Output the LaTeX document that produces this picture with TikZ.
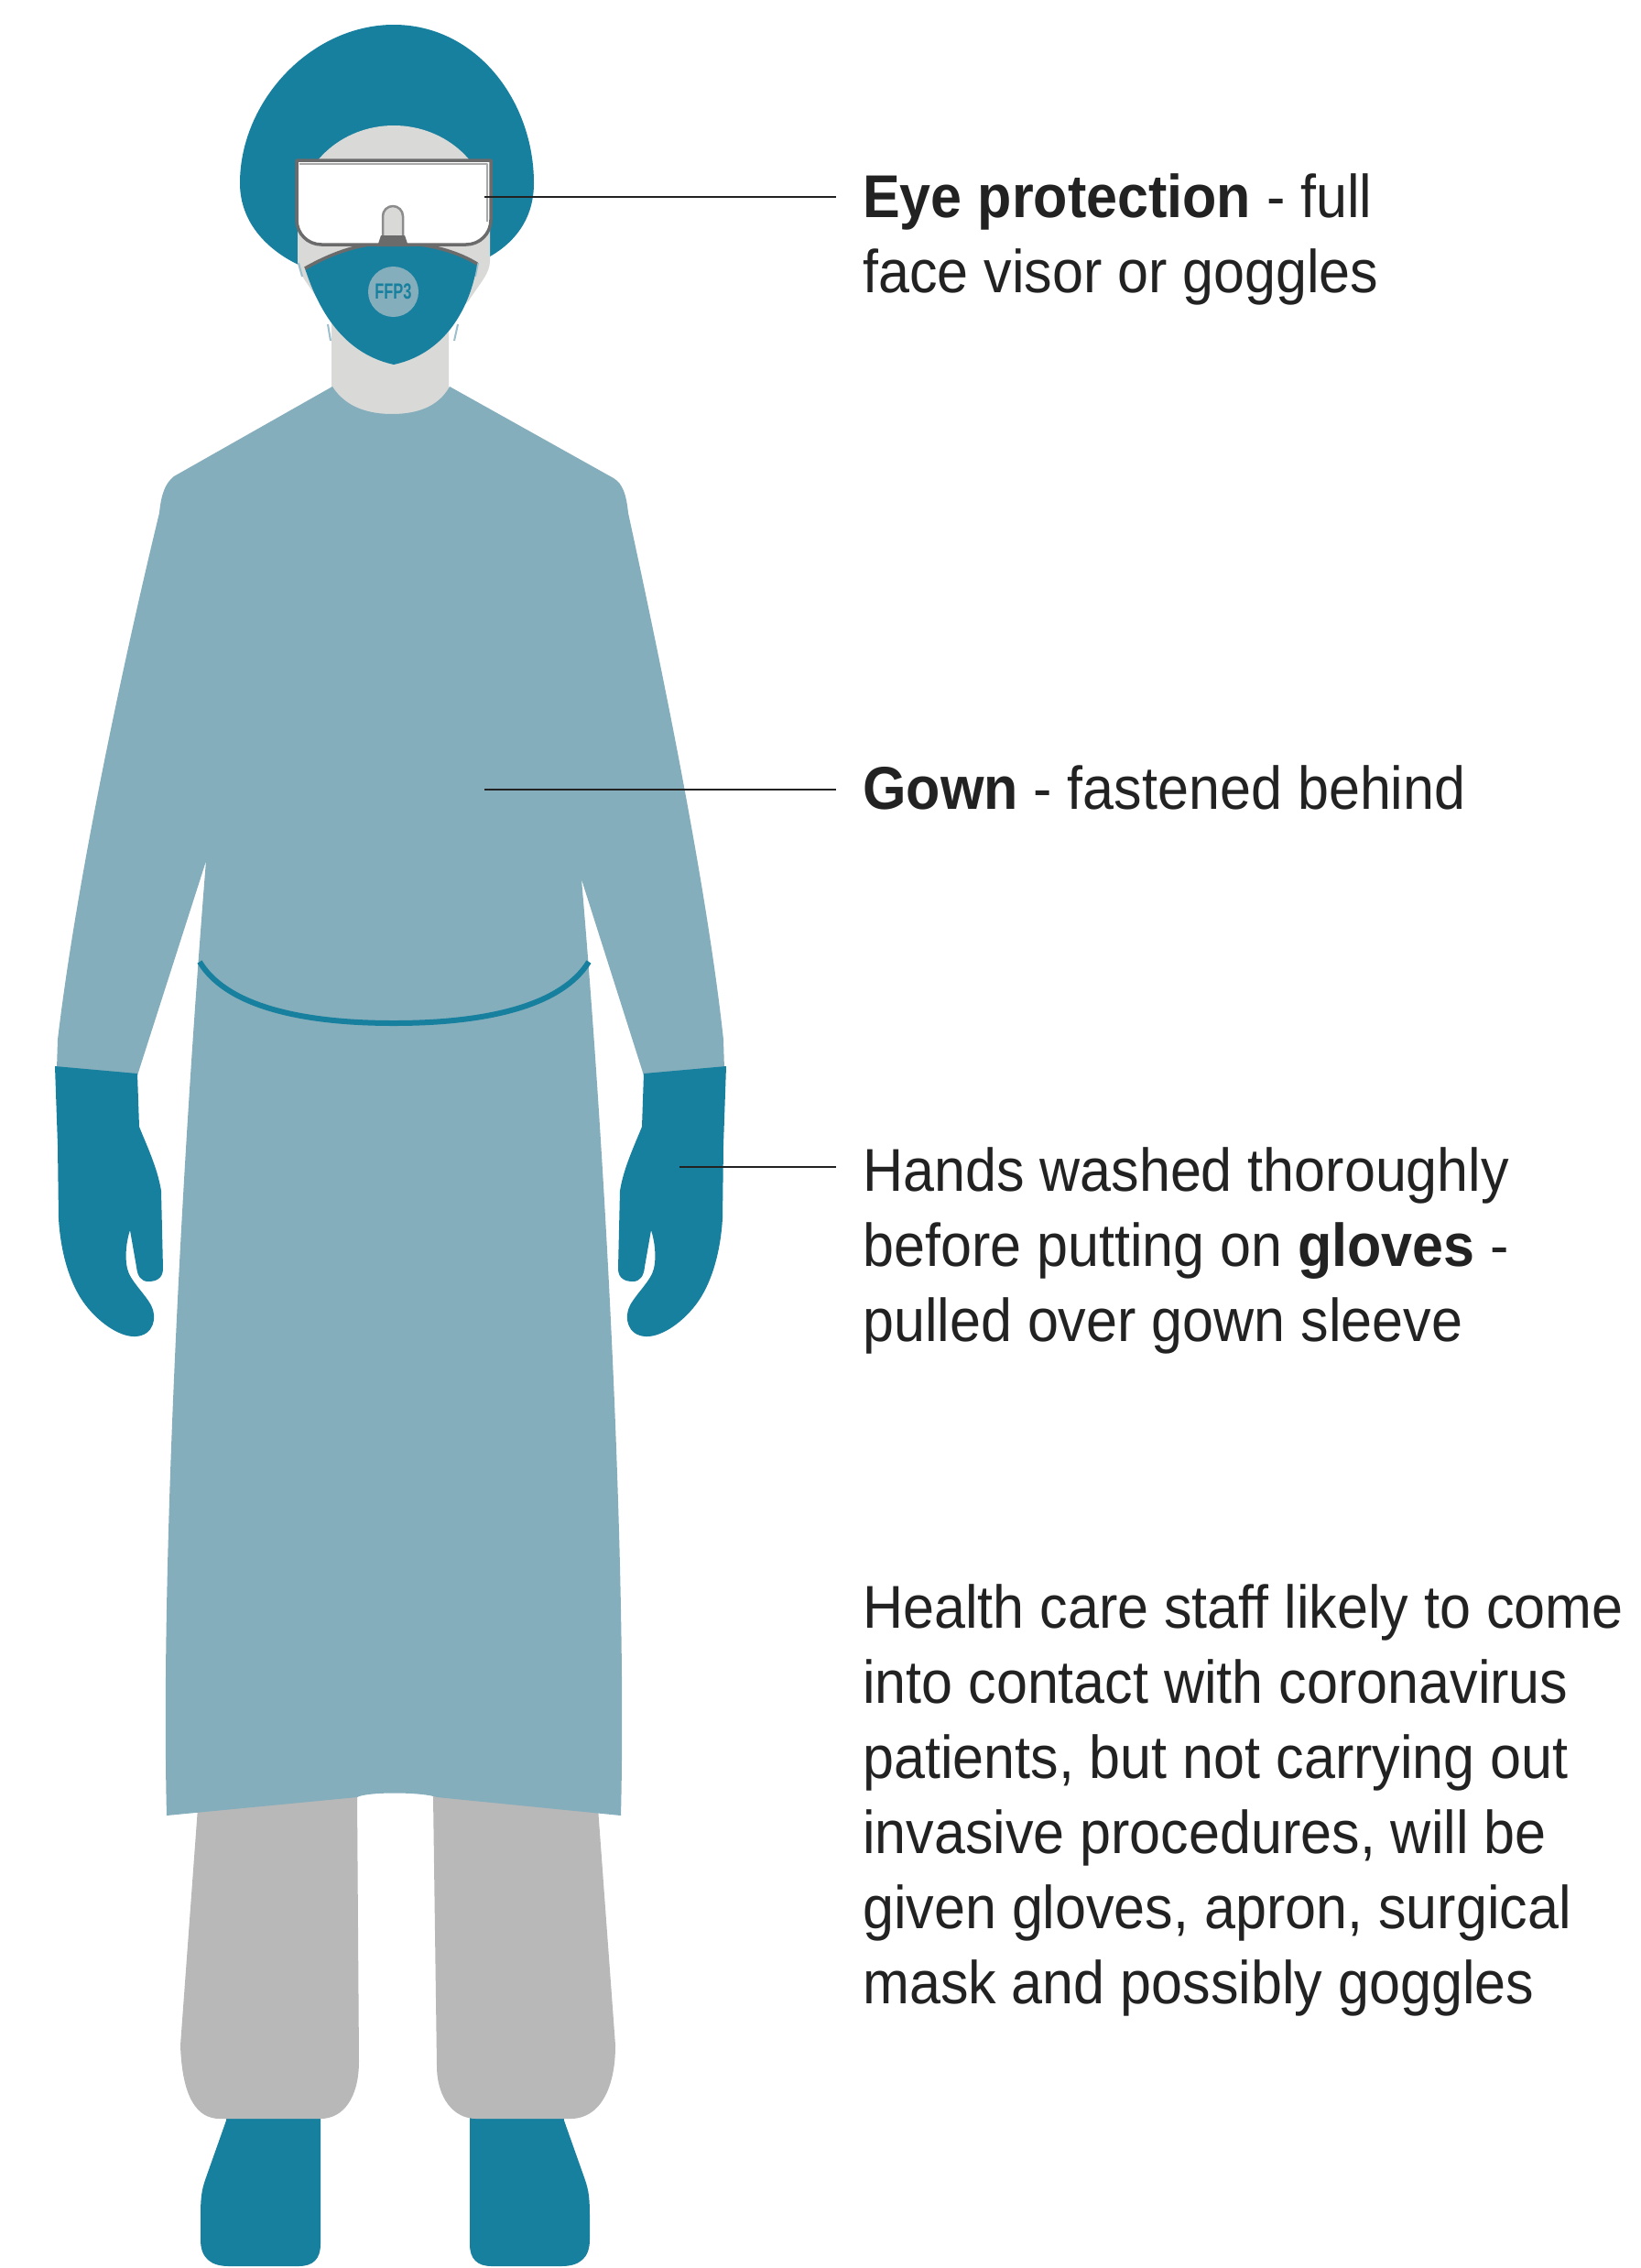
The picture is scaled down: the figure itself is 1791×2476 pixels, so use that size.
\documentclass[tikz,border=0pt]{standalone}
\usepackage{fontspec}
\usepackage{graphicx}
\setmainfont{Liberation Sans}[FakeStretch=0.925]

\definecolor{ppeTeal}{HTML}{17809F}
\definecolor{gownBlue}{HTML}{85AEBC}
\definecolor{skinGrey}{HTML}{D9D9D8}
\definecolor{trouserGrey}{HTML}{B8B8B8}
\definecolor{visorGrey}{HTML}{6B6B6B}
\definecolor{visorLight}{HTML}{A8A8A8}
\definecolor{tabGrey}{HTML}{8C8C8C}
\definecolor{strapBlue}{HTML}{9DBFCB}
\definecolor{inkDark}{HTML}{222222}

\tikzset{
  tealpart/.style={fill=ppeTeal},
  strap/.style={draw=strapBlue, line width=2pt},
  leader/.style={draw=inkDark, line width=2.5pt},
  lbl/.style={anchor=base west, inner xsep=29pt, inner ysep=0pt, text=inkDark,
              font=\fontsize{66}{82}\selectfont},
  glove/.pic={
    \fill[tealpart] (60,1164) -- (150,1172) -- (152,1230)
      .. controls (160,1250) and (172,1275) .. (176,1300) -- (178,1385)
      .. controls (178,1396) and (170,1399) .. (162,1399)
      .. controls (154,1399) and (150,1393) .. (149,1383) -- (142,1343)
      .. controls (138,1355) and (136,1372) .. (139,1385)
      .. controls (142,1398) and (158,1412) .. (165,1425)
      .. controls (172,1438) and (168,1458) .. (148,1459)
      .. controls (130,1460) and (105,1442) .. (90,1420)
      .. controls (75,1398) and (66,1365) .. (64,1330) -- (63,1250) -- cycle;
  },
  boot/.pic={
    \fill[tealpart] (248,2300) -- (350,2300) -- (350,2450)
      .. controls (350,2466) and (342,2474) .. (326,2474) -- (250,2474)
      .. controls (230,2474) and (219,2465) .. (219,2445) -- (219,2420)
      .. controls (219,2400) and (220,2392) .. (224,2380) -- (247,2315) -- cycle;
  }
}

\begin{document}
\begin{tikzpicture}[x=1pt, y=-1pt, line join=round]
  \useasboundingbox (0,0) rectangle (1791,2476);
  \fill[white] (0,0) rectangle (1791,2476);

  % boots
  \pic at (0,0) {boot};
  \pic[xscale=-1] at (863,0) {boot};

  % trousers
  \fill[trouserGrey] (217,1960) -- (197,2233)
    .. controls (199,2290) and (215,2313) .. (240,2313) -- (350,2313)
    .. controls (375,2313) and (392,2290) .. (392,2250) -- (390,1960) -- cycle;
  \fill[trouserGrey] (473,1960) -- (477,2255)
    .. controls (477,2290) and (495,2313) .. (520,2313) -- (623,2313)
    .. controls (655,2313) and (672,2280) .. (672,2233) -- (652,1960) -- cycle;

  % cap
  \fill[tealpart] (328,290)
    .. controls (295,275) and (262,245) .. (262,200)
    .. controls (262,110) and (340,27) .. (430,27)
    .. controls (520,27) and (583,110) .. (583,200)
    .. controls (583,245) and (555,272) .. (523,286) -- cycle;

  % face and neck
  \fill[skinGrey] (362,470) -- (362,352) -- (348,328)
    .. controls (335,308) and (325,298) .. (325,285) -- (325,235)
    .. controls (325,181) and (372,137) .. (430,137)
    .. controls (488,137) and (535,181) .. (535,235) -- (535,285)
    .. controls (535,298) and (525,308) .. (512,328) -- (490,352) -- (490,470) -- cycle;

  % gown with sleeves
  \fill[gownBlue] (363,422)
    .. controls (378,446) and (405,452) .. (428,452)
    .. controls (452,452) and (478,446) .. (491,422)
    -- (670,522)
    .. controls (680,528) and (684,540) .. (686,560)
    .. controls (712,680) and (770,950) .. (790,1135)
    -- (791,1168) -- (703,1174) -- (635,960)
    .. controls (660,1250) and (685,1700) .. (678,1982)
    -- (477,1962) .. controls (460,1956) and (400,1956) .. (390,1962)
    -- (182,1982)
    .. controls (175,1700) and (200,1250) .. (225,940)
    -- (150,1174) -- (62,1167) -- (63,1135)
    .. controls (85,950) and (140,700) .. (174,560)
    .. controls (176,540) and (180,528) .. (190,520) -- cycle;

  % waist tie
  \draw[ppeTeal, line width=6pt] (218,1050)
    .. controls (245,1095) and (320,1117) .. (430,1117)
    .. controls (540,1117) and (615,1095) .. (643,1050);

  % gloves
  \pic at (0,0) {glove};
  \pic[xscale=-1] at (853,0) {glove};

  % respirator mask with its straps
  \draw[strap] (326,287) -- (330,302);
  \draw[strap] (358,354) -- (361,372);
  \draw[strap] (522,287) -- (519,302);
  \draw[strap] (500,354) -- (496,372);
  \fill[tealpart] (333,293)
    .. controls (370,272) and (400,265) .. (430,265)
    .. controls (460,265) and (495,272) .. (521,288)
    .. controls (515,330) and (490,385) .. (430,398)
    .. controls (370,385) and (345,330) .. (333,293) -- cycle;
  \draw[visorGrey, line width=3.5pt] (333,293)
    .. controls (370,272) and (400,265) .. (430,265)
    .. controls (460,265) and (495,272) .. (521,288);
  \node (valve) at (429.5,318.5) [circle, fill=gownBlue, minimum size=55pt, inner sep=0pt,
    text=ppeTeal, font=\fontsize{24}{24}\selectfont\bfseries] {\scalebox{0.74}[1]{FFP3}};

  % visor
  \filldraw[fill=white, draw=visorGrey, line width=3.5pt] (324,175) -- (536,175) -- (536,240)
    .. controls (536,255) and (524,267) .. (509,267) -- (351,267)
    .. controls (336,267) and (324,255) .. (324,240) -- cycle;
  \draw[visorLight, line width=2.5pt] (327,179) -- (532,179) -- (532,242);
  \filldraw[fill=skinGrey, draw=tabGrey, line width=2.5pt] (418,266) -- (418,236)
    .. controls (418,229.9) and (422.9,225) .. (429,225)
    .. controls (435.1,225) and (440,229.9) .. (440,236) -- (440,266);
  \fill[visorGrey] (412,269) -- (416,257) -- (442,257) -- (446,269) -- cycle;

  % anchor points of the leader lines
  \coordinate (eyept) at (529,215);
  \coordinate (gownpt) at (529,862);
  \coordinate (glovept) at (742,1274);

  % labels
  \node[lbl] (eyetxt) at (913,237) {\begin{tabular}[t]{@{}l@{}}\textbf{Eye protection} - full\\face visor or goggles\end{tabular}};
  \node[lbl] (gowntxt) at (913,883) {\begin{tabular}[t]{@{}l@{}}\textbf{Gown} - fastened behind\end{tabular}};
  \node[lbl] (glovetxt) at (913,1300) {\begin{tabular}[t]{@{}l@{}}Hands washed thoroughly\\before putting on \textbf{gloves} -\\pulled over gown sleeve\end{tabular}};
  \node[lbl] (notetxt) at (913,1777) {\begin{tabular}[t]{@{}l@{}}Health care staff likely to come\\into contact with coronavirus\\patients, but not carrying out\\invasive procedures, will be\\given gloves, apron, surgical\\mask and possibly goggles\end{tabular}};

  % leader lines
  \draw[leader] (eyept) -- (eyept -| eyetxt.west);
  \draw[leader] (gownpt) -- (gownpt -| gowntxt.west);
  \draw[leader] (glovept) -- (glovept -| glovetxt.west);
\end{tikzpicture}
\end{document}
